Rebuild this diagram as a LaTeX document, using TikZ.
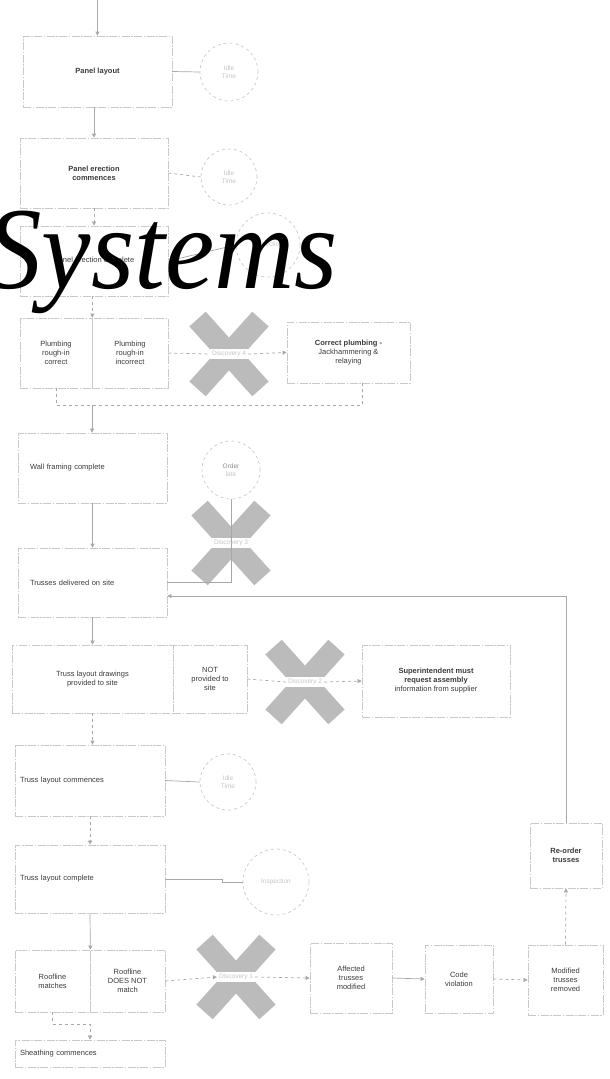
\documentclass[tikz,border=0pt]{standalone}
\usepackage{fontspec}
\setmainfont{Liberation Sans}
\newfontfamily\titleserif{Liberation Serif}
\usetikzlibrary{arrows.meta,calc}
\definecolor{edgegray}{HTML}{C9C9C9}
\definecolor{linegray}{HTML}{A8A8A8}
\definecolor{xgray}{HTML}{BBBBBB}
\definecolor{inkgray}{HTML}{3A3A3A}
\definecolor{faintink}{HTML}{C4C4C4}
\begin{document}
\begin{tikzpicture}[x=1pt,y=-1pt,
  font=\fontsize{7.5}{9}\selectfont,
  stepbox/.style={draw=edgegray, line width=0.7pt,
    dash pattern=on 8pt off 1.5pt on 1.5pt off 1.5pt,
    text=inkgray, align=center, inner sep=2pt},
  leftbox/.style={stepbox, align=left},
  idle/.style={circle, draw=edgegray, line width=0.7pt, dashed,
    text=faintink, align=center, font=\fontsize{6.5}{8}\selectfont, inner sep=0pt},
  flow/.style={draw=linegray, line width=0.7pt, -{Triangle[length=4pt,width=4pt]}},
  plain/.style={draw=linegray, line width=0.7pt},
  dflow/.style={flow, dashed},
  dplain/.style={plain, dashed},
  tag/.style={fill=white, text=faintink, font=\fontsize{6.5}{8}\selectfont, inner sep=2pt},
  bar/.style={fill=xgray}
]
\useasboundingbox (0,0) rectangle (610,1079);

% ---- crossed bars behind the decision labels
\foreach \cx/\cy in {229/354, 231/543, 305/682, 236/977}{
  \fill[bar, rotate around={48:(\cx,\cy)}] (\cx-47,\cy-11) rectangle (\cx+47,\cy+11);
  \fill[bar, rotate around={-48:(\cx,\cy)}] (\cx-47,\cy-11) rectangle (\cx+47,\cy+11);
}

% ---- process boxes
\node[stepbox, minimum width=149pt, minimum height=71pt, font=\fontsize{7.5}{9}\selectfont\bfseries] (B1) at (97.5,71.5) {Panel layout};
\node[stepbox, minimum width=148pt, minimum height=70pt, font=\fontsize{7.5}{9}\selectfont\bfseries] (B2) at (94,173) {Panel erection\\commences};
\node[stepbox, minimum width=148pt, minimum height=70pt] (B3) at (94,261) {Panel erection complete};
\node[stepbox, minimum width=72pt, minimum height=70pt] (B4a) at (56,353) {Plumbing\\rough-in\\correct};
\node[stepbox, minimum width=76pt, minimum height=70pt] (B4b) at (130,353) {Plumbing\\rough-in\\incorrect};
\node[stepbox, minimum width=123pt, minimum height=61pt] (B5) at (348.5,352.5) {\textbf{Correct plumbing -}\\Jackhammering \&\\relaying};
\node[leftbox, minimum width=149pt, minimum height=70pt, text width=125pt] (B6) at (92.5,468) {Wall framing complete};
\node[leftbox, minimum width=149pt, minimum height=69pt, text width=125pt] (B7) at (92.5,582.5) {Trusses delivered on site};
\node[stepbox, minimum width=161pt, minimum height=68pt] (B8a) at (92.5,679) {Truss layout drawings\\provided to site};
\node[stepbox, minimum width=74pt, minimum height=68pt] (B8b) at (210,679) {NOT\\provided to\\site};
\node[stepbox, minimum width=148pt, minimum height=72pt] (B9) at (436,681) {\textbf{Superintendent must}\\\textbf{request assembly}\\information from supplier};
\node[leftbox, minimum width=150pt, minimum height=71pt, text width=140pt] (B10) at (90,780.5) {Truss layout commences};
\node[leftbox, minimum width=150pt, minimum height=68pt, text width=140pt] (B11) at (90,879) {Truss layout complete};
\node[stepbox, minimum width=75pt, minimum height=62pt] (B12a) at (52.5,981) {Roofline\\matches};
\node[stepbox, minimum width=75pt, minimum height=62pt] (B12b) at (127.5,981) {Roofline\\DOES NOT\\match};
\node[leftbox, minimum width=150pt, minimum height=27pt, text width=140pt] (B13) at (90,1053.5) {Sheathing commences};
\node[stepbox, minimum width=82pt, minimum height=70pt] (B14) at (351,978) {Affected\\trusses\\modified};
\node[stepbox, minimum width=68pt, minimum height=68pt] (B15) at (459,979) {Code\\violation};
\node[stepbox, minimum width=75pt, minimum height=70pt] (B16) at (565.5,980) {Modified\\trusses\\removed};
\node[stepbox, minimum width=72pt, minimum height=65pt, font=\fontsize{7.5}{9}\selectfont\bfseries] (B17) at (566,855.5) {Re-order\\trusses};

% ---- side circles
\node[idle, minimum size=58pt] (C1) at (229,72) {Idle\\Time};
\node[idle, minimum size=56pt] (C2) at (229,177) {Idle\\Time};
\node[idle, minimum size=64pt] (C3) at (268,245) {Inspection};
\node[idle, minimum size=58pt] (C4) at (231,470) {\textcolor{inkgray!60}{Order}\\late};
\node[idle, minimum size=56pt] (C5) at (228,782) {Idle\\Time};
\node[idle, minimum size=66pt] (C6) at (276,882) {Inspection};

% ---- decision labels over the crossed bars
\node[tag] (D4) at (229,354) {Discovery 4};
\node[tag] (D3) at (231,543) {Discovery 3};
\node[tag] (D2) at (305,682) {Discovery 2};
\node[tag] (D1) at (236,977) {Discovery 1};

% ---- connectors
\coordinate (start) at (97.5,0);
\draw[flow] (start) -- (B1.north);
\draw[plain] (B1.east) -- (C1.west);
\draw[flow] (B1.south -| B2.north) -- (B2.north);
\draw[dplain] (B2.east) -- (C2.west);
\draw[dflow] (B2.south) -- (B3.north);
\draw[plain] (B3.east) -- (C3.west);
\draw[dflow] (B3.south -| B4a.north east) -- (B4a.north east);
\draw[dplain] (B4b.east) -- (D4.west);
\draw[dflow] (D4.east) -- (B5.west);
\draw[dplain] (B4a.south) -- ++(0,17) -| ($(B5.south)+(13.5,0)$);
\coordinate (join) at (92,405);
\draw[flow] (join) -- (join |- B6.north);
\draw[flow] (B6.south) -- (B7.north);
\draw[plain] (C4.south) |- (B7.east);
\draw[flow] (B17.north) |- ($(B7.east)+(0,13.5)$);
\draw[flow] (B7.south) -- (B8a.north);
\draw[dplain] (B8b.east) -- (D2.west);
\draw[dflow] (D2.east) -- (B9.west);
\draw[dflow] (B8a.south) -- (B8a.south |- B10.north);
\draw[plain] (B10.east) -- (C5.west);
\draw[dflow] (B10.south) -- (B11.north);
\draw[plain] (B11.east) -- ++(57,0) |- (C6.west);
\draw[flow] (B11.south) -- (B12a.north east);
\draw[dflow] (B12a.south) -- ++(0,12) -| (B13.north);
\draw[dflow] (B12b.east) -- (D1.west);
\draw[dflow] (D1.east) -- (B14.west);
\draw[flow] (B14.east) -- (B15.west);
\draw[dflow] (B15.east) -- (B16.west);
\draw[dflow] (B16.north) -- (B17.south);

% ---- overlaid title word
\node[anchor=base west, inner sep=0pt, text=black, xscale=0.95,
  font=\titleserif\itshape\fontsize{117}{117}\selectfont] (title) at (-14,288) {Systems};
\end{tikzpicture}
\end{document}
